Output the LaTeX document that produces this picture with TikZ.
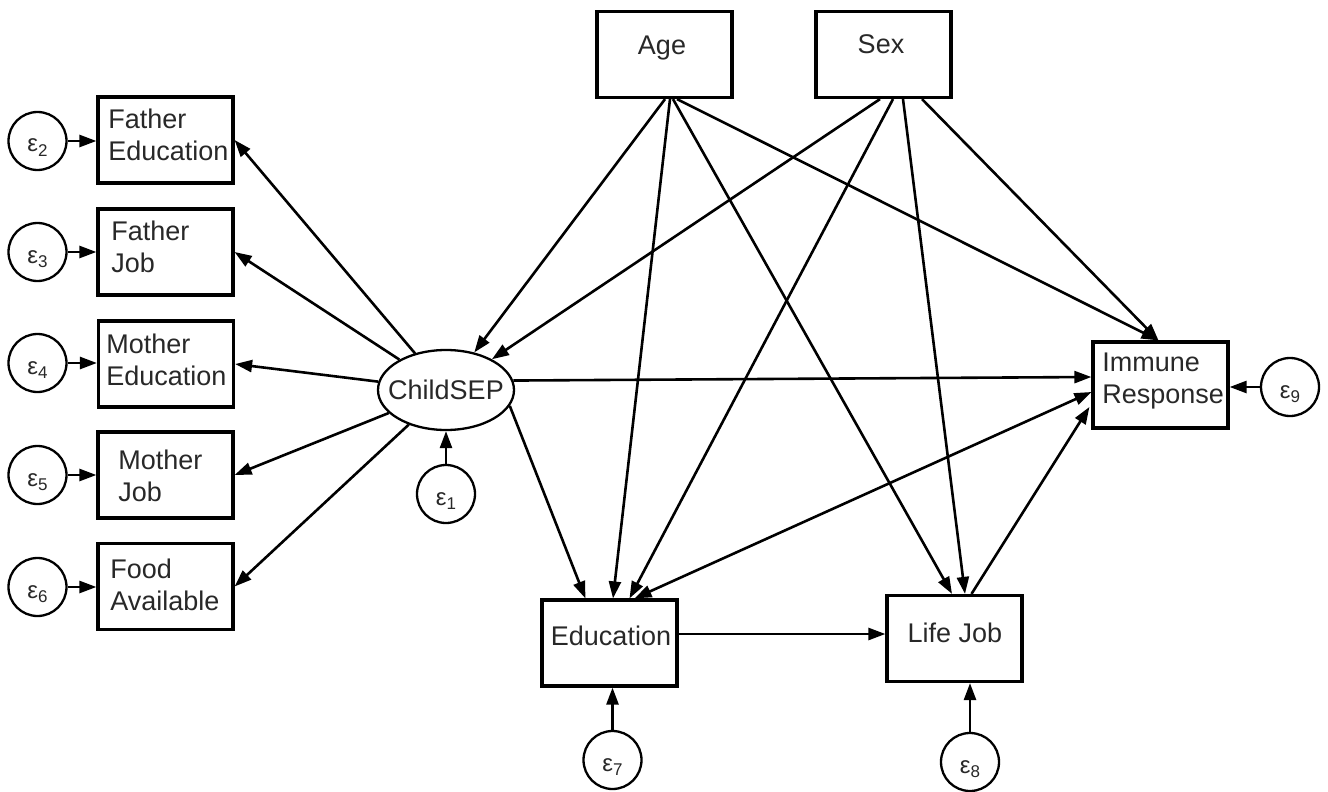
\documentclass[tikz,border=0pt]{standalone}
\usepackage{fontspec}
\setmainfont{Liberation Sans}
\usetikzlibrary{arrows.meta,calc,shapes.geometric}
\definecolor{txt}{RGB}{40,40,40}
\newcommand{\epsv}[1]{\fontsize{12}{12}\selectfont ε\raisebox{-2.4pt}{\fontsize{8.5}{8.5}\selectfont #1}}
\begin{document}
\begin{tikzpicture}[x=0.5pt,y=-0.5pt,
 box/.style={draw,line width=1.6pt,minimum width=67.5pt,minimum height=43pt,inner sep=0pt},
 lbl/.style={font=\fontsize{13.5}{16}\selectfont,text=txt,inner sep=0pt,align=left},
 err/.style={draw,circle,line width=1.15pt,minimum size=29pt,inner sep=0pt,text=txt,text height=11pt,text depth=0pt},
 lat/.style={draw,ellipse,line width=1.15pt,minimum width=68pt,minimum height=40pt,inner sep=0pt,font=\fontsize{13.5}{16}\selectfont,text=txt},
 arr/.style={line width=1.3pt,-{Triangle[length=8.5pt,width=6pt]}},
 darr/.style={line width=1.3pt,{Triangle[length=8.5pt,width=6pt]}-{Triangle[length=8.5pt,width=6pt]}},
]
\useasboundingbox (0,0) rectangle (1328,792);

% boxes
\node[box] (age) at (664.5,54.5) {};
\node[lbl] (age-l) at (662,48) {Age};
\node[box] (sex) at (883.5,54.5) {};
\node[lbl] (sex-l) at (881,44.3) {Sex};

\node[box] (fe) at (165.5,140) {};
\node[lbl,anchor=west] (fe-l) at (108,135) {Father\\Education};
\node[box] (fj) at (165.5,252) {};
\node[lbl,anchor=west] (fj-l) at (111,247) {Father\\Job};
\node[box] (me) at (166,364) {};
\node[lbl,anchor=west] (me-l) at (106,359.5) {Mother\\Education};
\node[box] (mj) at (165.5,475) {};
\node[lbl,anchor=west] (mj-l) at (118,476) {Mother\\Job};
\node[box] (fa) at (165.5,586.5) {};
\node[lbl,anchor=west] (fa-l) at (110,585) {Food\\Available};

\node[box] (edu) at (609.5,643) {};
\node[lbl] (edu-l) at (611,636) {Education};
\node[box] (lj) at (954.5,638.5) {};
\node[lbl] (lj-l) at (955,633) {Life Job};
\node[box] (ir) at (1160.5,385) {};
\node[lbl,anchor=west] (ir-l) at (1102,381.3) {Immune\\Response};

\node[lat] (cs) at (446,390) {\makebox[0pt][c]{ChildSEP}};

% error terms
\node[err] (e1) at (446,494) {\epsv{1}};
\node[err] (e2) at (37.5,141) {\epsv{2}};
\node[err] (e3) at (37.5,252) {\epsv{3}};
\node[err] (e4) at (37.5,363) {\epsv{4}};
\node[err] (e5) at (37.5,475) {\epsv{5}};
\node[err] (e6) at (37.5,587) {\epsv{6}};
\node[err] (e7) at (612.5,760) {\epsv{7}};
\node[err] (e8) at (970,762) {\epsv{8}};
\node[err] (e9) at (1290,387) {\epsv{9}};

% Age paths
\draw[arr] ($(age.south)+(0.5,0)$) -- (cs);
\draw[arr] ($(age.south)+(5.5,0)$) -- ($(edu.north)+(3.5,0)$);
\draw[arr] ($(age.south)+(8.5,0)$) -- ($(lj.north)+(-2.5,0)$);
\draw[arr] ($(age.south)+(12.5,0)$) -- ($(ir.north)+(-2,0)$);
% Sex paths
\draw[arr] ($(sex.south)+(-3.5,0)$) -- (cs);
\draw[arr] ($(sex.south)+(9.5,0)$) -- ($(edu.north)+(20,0)$);
\draw[arr] ($(sex.south)+(19.5,0)$) -- ($(lj.north)+(10.5,0)$);
\draw[arr] ($(sex.south)+(38.5,0)$) -- ($(ir.north)+(-2,0)$);

% ChildSEP indicators
\draw[arr] (cs) -- (fe.east);
\draw[arr] (cs) -- (fj.east);
\draw[arr] (cs) -- (me.east);
\draw[arr] (cs) -- (mj.east);
\draw[arr] (cs) -- (fa.east);

% structural paths
\draw[arr] (cs.8) -- ($(ir.west)+(0,-8)$);
\draw[arr] (cs.-14) -- ($(edu.north west)+(45,0)$);
\draw[darr] ($(edu.north)+(25,0)$) -- ($(ir.west)+(0,7)$);
\draw[arr] ($(lj.north)+(17,0)$) -- ($(ir.west)+(-2,22)$);
\draw[arr] ($(edu.east)+(0,-9)$) -- ($(lj.west)+(0,-4.5)$);

% error arrows
\draw[arr] (e1) -- (cs);
\draw[arr] (e2) -- (e2 -| fe.west);
\draw[arr] (e3) -- (e3 -| fj.west);
\draw[arr] (e4) -- (e4 -| me.west);
\draw[arr] (e5) -- (e5 -| mj.west);
\draw[arr] (e6) -- (e6 -| fa.west);
\draw[arr] (e7) -- (e7 |- edu.south);
\draw[arr] (e8) -- (e8 |- lj.south);
\draw[arr] (e9) -- (e9 -| ir.east);
\end{tikzpicture}
\end{document}
